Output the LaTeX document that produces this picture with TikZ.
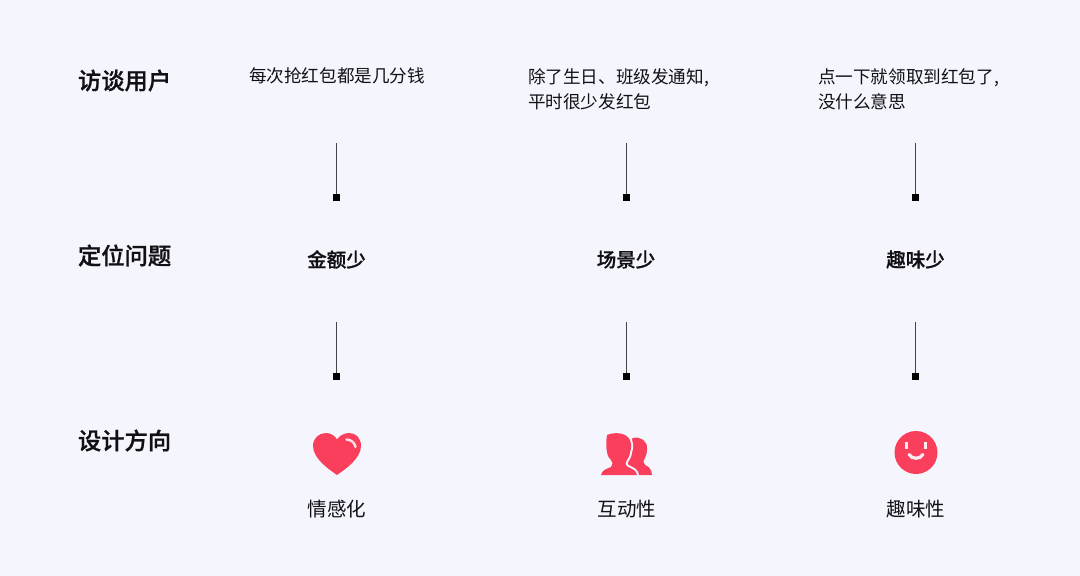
\documentclass[tikz,border=0pt]{standalone}
\usepackage{fontspec}
\setmainfont{Noto Sans CJK SC}[BoldFont={Noto Sans CJK SC Medium},BoldFeatures={FakeBold=0.8}]
\definecolor{bgc}{HTML}{F5F6FD}
\definecolor{redc}{HTML}{F93F5B}
\definecolor{inkc}{HTML}{111114}
\newcommand{\frontfigure}{(607,435)
  .. controls (614,432) and (626,432) .. (630,440)
  .. controls (632,445) and (631,450) .. (630,452)
  .. controls (630,456) and (628,458) .. (627,460)
  .. controls (625,463) and (625,465) .. (628,467)
  .. controls (632,469) and (636,470) .. (637,475)
  -- (601,475)
  .. controls (602,470) and (606,469) .. (611,467)
  .. controls (613,465) and (613,462) .. (611,460)
  .. controls (608,457) and (607,454) .. (607,452)
  .. controls (606,448) and (606,441) .. (607,435) -- cycle}
\tikzset{
  x=1pt,y=-1pt,
  every node/.style={inner sep=0pt,outer sep=0pt},
  headtext/.style={anchor=west,font=\fontsize{23.3}{27}\selectfont\bfseries,text=inkc},
  quotetext/.style={anchor=north west,align=left,font=\fontsize{17.6}{24.5}\selectfont,text=inkc},
  issuetext/.style={font=\fontsize{19.5}{23}\selectfont\bfseries,text=inkc},
  dirtext/.style={font=\fontsize{19.5}{23}\selectfont,text=inkc},
  endsq/.style={fill=black,minimum size=7pt,draw=none},
  stem/.style={draw=inkc!78,line width=1.2pt},
  redfill/.style={fill=redc,draw=none}
}
\begin{document}
\begin{tikzpicture}
\useasboundingbox (0,0) rectangle (1080,576);
\fill[bgc] (0,0) rectangle (1080,576);
% row headings
\node[headtext] (h1) at (78,80.5) {访谈用户};
\node[headtext] (h2) at (78,255.5) {定位问题};
\node[headtext] (h3) at (78,440.5) {设计方向};
% quotes
\node[quotetext] (q1) at (249,68) {每次抢红包都是几分钱};
\node[quotetext] (q2) at (528,69) {除了生日、班级发通知,\\平时很少发红包};
\node[quotetext] (q3) at (818,69) {点一下就领取到红包了,\\没什么意思};
% issues
\node[issuetext] (i1) at (336.5,259.5) {金额少};
\node[issuetext] (i2) at (626,259.5) {场景少};
\node[issuetext] (i3) at (915.5,259.5) {趣味少};
% directions
\node[dirtext] (d1) at (337,509) {情感化};
\node[dirtext] (d2) at (627,509) {互动性};
\node[dirtext] (d3) at (916,509) {趣味性};
% connectors
\foreach \n/\xa/\ya/\yb in {a/336.5/143/197,b/626.5/143/197,c/915.5/143/197,d/336.5/322/376,e/626.5/322/376,f/915.5/322/376}{
  \coordinate (t\n) at (\xa,\ya);
  \node[endsq] (s\n) at (\xa,\yb) {};
  \draw[stem] (t\n) -- (s\n);
}
% heart
\fill[redfill] (337,475)
  .. controls (330,470) and (313,459) .. (313,446)
  .. controls (313,438) and (319,433) .. (326,433)
  .. controls (331,433) and (335,436) .. (337,439.5)
  .. controls (339,436) and (344,433) .. (349,433)
  .. controls (356,433) and (361,438) .. (361,446)
  .. controls (361,459) and (344,470) .. (337,475) -- cycle;
\draw[white!85!redc,line width=2.4pt,line cap=round] (346.5,439.5) .. controls (351,439.5) and (355,443) .. (355.5,447);
% people: back figure
\fill[redfill] (633,438)
  .. controls (640,436) and (648,441) .. (647,449)
  .. controls (647,453) and (646,456) .. (645,458)
  .. controls (643,461) and (643,463) .. (645,465)
  .. controls (649,467) and (651,468) .. (652,475)
  -- (637,475)
  .. controls (636,470) and (632,468) .. (628,465)
  -- (630,440) -- cycle;
% people: front figure with a light halo
\draw[bgc,line width=4pt,line join=round] \frontfigure;
\fill[redfill] \frontfigure;
% smile
\fill[redfill] (916,452.5) circle[radius=21.5];
\draw[white!90!redc,line width=3.4pt] (906.5,441.5) -- (906.5,449);
\draw[white!90!redc,line width=3.4pt] (925.5,441.5) -- (925.5,449);
\draw[white!90!redc,line width=3.2pt,line cap=round] (909,454.5) .. controls (912,459.5) and (920,459.5) .. (923,454.5);
\end{tikzpicture}
\end{document}
